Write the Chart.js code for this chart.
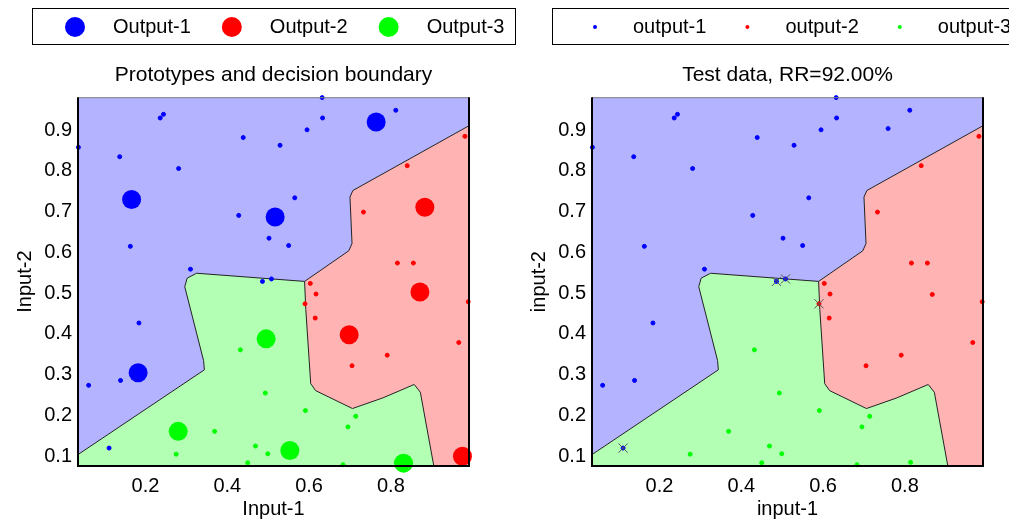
<!DOCTYPE html>
<html>
<head>
<meta charset="utf-8">
<script src="https://cdn.jsdelivr.net/npm/chart.js@4/dist/chart.umd.min.js"></script>
<style>
  html, body { margin: 0; padding: 0; background: #fff; overflow: hidden; width: 1009px; height: 521px; }
  .panel { position: absolute; top: 0; width: 547px; height: 521px; }
</style>
</head>
<body>
<div class="panel" style="left:0"><canvas id="left" width="547" height="521"></canvas></div>
<div class="panel" style="left:514px"><canvas id="right" width="547" height="521"></canvas></div>
<script>
// axis limits and ticks
const xMin = 0.035, xMax = 0.991, yMin = 0.076, yMax = 0.981;
const xTicks = [0.2, 0.4, 0.6, 0.8];
const yTicks = [0.1, 0.2, 0.3, 0.4, 0.5, 0.6, 0.7, 0.8, 0.9];

const colors = ['#0000ff', '#ff0000', '#00ff00'];
const regionColors = ['#b3b3ff', '#ffb3b3', '#b3ffb3'];

// test data per class
const test1 = [[0.244,0.939],[0.236,0.930],[0.439,0.882],[0.036,0.858],[0.137,0.835],[0.281,0.806],
  [0.428,0.691],[0.502,0.635],[0.163,0.615],[0.310,0.559],[0.486,0.529],[0.508,0.535],[0.632,0.980],
  [0.812,0.949],[0.633,0.930],[0.595,0.901],[0.529,0.863],[0.565,0.734],[0.550,0.617],[0.184,0.427],
  [0.139,0.286],[0.061,0.274],[0.111,0.120],[0.759,0.904]];
const test2 = [[0.981,0.885],[0.840,0.813],[0.733,0.699],[0.816,0.574],[0.855,0.574],[0.603,0.524],
  [0.617,0.498],[0.590,0.474],[0.615,0.439],[0.989,0.479],[0.966,0.379],[0.791,0.348],[0.705,0.322],
  [0.867,0.497]];
const test3 = [[0.591,0.212],[0.714,0.198],[0.695,0.172],[0.683,0.079],[0.432,0.361],[0.493,0.255],
  [0.369,0.161],[0.469,0.125],[0.499,0.106],[0.275,0.105],[0.450,0.084],[0.814,0.085]];

// prototypes
const proto1 = [[0.166,0.730],[0.517,0.687],[0.764,0.920],[0.182,0.305]];
const proto2 = [[0.883,0.711],[0.871,0.503],[0.698,0.398],[0.975,0.100]];
const proto3 = [[0.495,0.388],[0.280,0.161],[0.553,0.114],[0.831,0.083]];

// misclassified test points
const wrong = [[0.111,0.120],[0.486,0.529],[0.508,0.535],[0.590,0.474]];

// decision boundaries, all starting at the triple point
const blueRed = [[0.589,0.529],[0.697,0.604],[0.705,0.622],[0.700,0.736],[0.707,0.752],[0.991,0.911]];
const blueGreen = [[0.589,0.529],[0.325,0.549],[0.302,0.537],[0.296,0.516],[0.342,0.335],[0.344,0.312],[0.035,0.104]];
const greenRed = [[0.589,0.529],[0.592,0.460],[0.604,0.278],[0.616,0.261],[0.706,0.217],[0.780,0.243],
  [0.857,0.276],[0.872,0.257],[0.905,0.076]];

const regionBlue = [[xMin,yMax],[xMax,yMax], ...blueRed.slice().reverse(), ...blueGreen.slice(1)];
const regionRed = [...blueRed, [xMax,yMin], ...greenRed.slice().reverse()];
const regionGreen = [...blueGreen, [xMin,yMin], ...greenRed.slice().reverse()];

const pts = arr => arr.map(p => ({x: p[0], y: p[1]}));

Chart.defaults.font.family = '"Liberation Sans", Arial, sans-serif';
Chart.defaults.font.size = 20;
Chart.defaults.color = '#000';

// boxed legend drawn above the title
const boxLegend = {
  id: 'boxLegend',
  afterDraw(chart, args, opts) {
    const ctx = chart.ctx;
    ctx.save();
    ctx.strokeStyle = '#000';
    ctx.lineWidth = 1;
    ctx.strokeRect(opts.x + 0.5, opts.y + 0.5, opts.w, opts.h);
    ctx.font = '20px "Liberation Sans", Arial, sans-serif';
    ctx.textBaseline = 'middle';
    const cy = opts.y + opts.h / 2 + 1;
    let x = opts.x + 43;
    opts.labels.forEach((t, i) => {
      ctx.fillStyle = colors[i];
      ctx.beginPath();
      ctx.arc(x, cy, opts.r, 0, Math.PI * 2);
      ctx.fill();
      ctx.fillStyle = '#000';
      ctx.fillText(t, x + 38, cy);
      x += 38 + ctx.measureText(t).width + 41;
    });
    ctx.restore();
  }
};

// plot frame
const frame = {
  id: 'frame',
  afterDatasetsDraw(chart) {
    const {ctx, chartArea: a} = chart;
    ctx.save();
    ctx.strokeStyle = '#808080';
    ctx.lineWidth = 1;
    ctx.beginPath();
    ctx.moveTo(a.left, a.top + 0.5);
    ctx.lineTo(a.right, a.top + 0.5);
    ctx.stroke();
    ctx.strokeStyle = '#000';
    ctx.lineWidth = 2;
    ctx.beginPath();
    ctx.moveTo(a.left, a.top);
    ctx.lineTo(a.left, a.bottom);
    ctx.lineTo(a.right, a.bottom);
    ctx.lineTo(a.right, a.top);
    ctx.stroke();
    ctx.restore();
  }
};

function regionSets() {
  return [regionBlue, regionRed, regionGreen].map((r, i) => ({
    data: pts(r), showLine: true, fill: 'shape', backgroundColor: regionColors[i],
    borderWidth: 0, pointRadius: 0, order: 20
  }));
}
function boundarySets() {
  return [blueRed, blueGreen, greenRed].map(b => ({
    data: pts(b), showLine: true, fill: false, borderColor: '#222', borderWidth: 1,
    pointRadius: 0, order: 10
  }));
}
function testSets() {
  return [test1, test2, test3].map((t, i) => ({
    data: pts(t), pointStyle: 'circle', pointRadius: 2, borderWidth: 1,
    backgroundColor: colors[i], borderColor: colors[i], clip: false, order: 5
  }));
}

function makePanel(id, title, xTitle, yTitle, labels, legendX, legendR, extra) {
  new Chart(document.getElementById(id), {
    type: 'scatter',
    data: { datasets: [...extra, ...testSets(), ...boundarySets(), ...regionSets()] },
    options: {
      responsive: false,
      animation: false,
      layout: { padding: { top: 63, left: 0, right: 78, bottom: 0 } },
      plugins: {
        legend: { display: false },
        tooltip: { enabled: false },
        title: {
          display: true, text: title, fullSize: false,
          font: { size: 21, weight: 'normal' }, padding: { top: 0, bottom: 9 }
        },
        boxLegend: { x: legendX, y: 8, w: 483, h: 36, r: legendR, labels: labels }
      },
      scales: {
        x: {
          type: 'linear', min: xMin, max: xMax,
          grid: { display: false, drawTicks: false }, border: { display: false },
          ticks: { padding: 8 },
          afterBuildTicks: s => { s.ticks = xTicks.map(v => ({value: v})); },
          afterFit: s => { s.height = 55; },
          title: { display: true, text: xTitle, padding: { top: 0, bottom: 0 } }
        },
        y: {
          type: 'linear', min: yMin, max: yMax,
          grid: { display: false, drawTicks: false }, border: { display: false },
          ticks: { padding: 6 },
          afterBuildTicks: s => { s.ticks = yTicks.map(v => ({value: v})); },
          afterFit: s => { s.width = 78; },
          title: { display: true, text: yTitle, padding: { top: 13, bottom: 0 } }
        }
      }
    },
    plugins: [boxLegend, frame]
  });
}

const protoSets = [proto1, proto2, proto3].map((p, i) => ({
  data: pts(p), pointStyle: 'circle', pointRadius: 9.5, borderWidth: 0,
  backgroundColor: colors[i], clip: false, order: 0
}));
const wrongSet = [{
  data: pts(wrong), pointStyle: 'crossRot', pointRadius: 6.5, borderWidth: 1,
  borderColor: '#555', clip: false, order: 0
}];

makePanel('left', 'Prototypes and decision boundary', 'Input-1', 'Input-2',
  ['Output-1', 'Output-2', 'Output-3'], 32, 10, protoSets);
makePanel('right', 'Test data, RR=92.00%', 'input-1', 'input-2',
  ['output-1', 'output-2', 'output-3'], 38, 2, wrongSet);
</script>
</body>
</html>
